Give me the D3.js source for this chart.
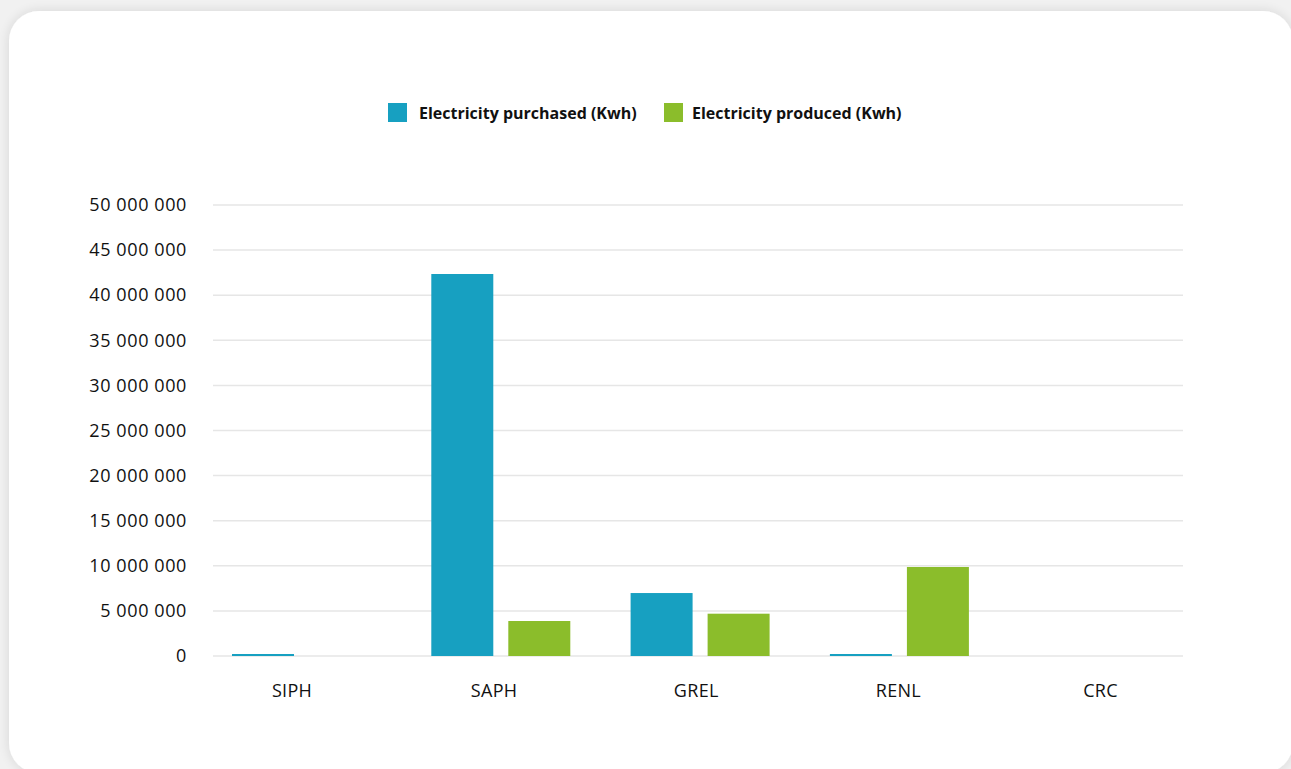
<!DOCTYPE html>
<html><head><meta charset="utf-8">
<script src="https://cdn.jsdelivr.net/npm/d3@7"></script>
<style>
html,body{margin:0;padding:0;background:#f1f1f1;overflow:hidden}
svg{display:block}
</style></head>
<body>
<svg id="chart" width="1291" height="769"></svg>
<script>
const categories = ["SIPH", "SAPH", "GREL", "RENL", "CRC"];
const seriesNames = ["Electricity purchased (Kwh)", "Electricity produced (Kwh)"];
const purchased = [150000, 42350000, 6980000, 150000, 0];
const produced = [0, 3880000, 4690000, 9870000, 0];
const yTicks = [0, 5000000, 10000000, 15000000, 20000000, 25000000, 30000000, 35000000, 40000000, 45000000, 50000000];
const colors = ["#17a0c1", "#8bbd2b"];

const svg = d3.select("#chart");
const defs = svg.append("defs");
const f = defs.append("filter").attr("id","sh").attr("x","-5%").attr("y","-5%").attr("width","110%").attr("height","110%");
f.append("feGaussianBlur").attr("in","SourceAlpha").attr("stdDeviation",6);
f.append("feOffset").attr("dx",0).attr("dy",0).attr("result","b");
f.append("feComponentTransfer").append("feFuncA").attr("type","linear").attr("slope",0.12);
const m = f.append("feMerge"); m.append("feMergeNode"); m.append("feMergeNode").attr("in","SourceGraphic");

svg.append("rect").attr("x",9).attr("y",11).attr("width",1284).attr("height",762)
  .attr("rx",30).attr("fill","#fff").attr("filter","url(#sh)");

const font = "'Open Sans', sans-serif";
const y = d3.scaleLinear().domain([0, 50000000]).range([656, 205]);
const x0 = d3.scaleBand().domain(categories).range([202.5, 202.5 + 5*199.3]);
const x1 = d3.scaleBand().domain([0,1]).range([29.5, 168.5]).paddingInner(0.195);
const xl = d3.scalePoint().domain(categories).range([291.5, 1100]);

const fmt = v => d3.format(",")(v).replace(/,/g, " ");
const yAxis = d3.axisLeft(y).tickValues(yTicks).tickFormat(fmt).tickSize(0).tickPadding(0);
const gy = svg.append("g").attr("transform","translate(187,0)").call(yAxis);
gy.select(".domain").remove();
gy.selectAll("text").attr("font-family",font).attr("font-size",18).attr("font-weight",500)
  .attr("letter-spacing","0.6px").attr("fill","#111").attr("dy","0.32em");

svg.append("g").selectAll("line").data(yTicks).join("line")
  .attr("x1",213).attr("x2",1183).attr("y1",d=>y(d)).attr("y2",d=>y(d))
  .attr("stroke","#e6e6e6").attr("stroke-width",1.5);

const series = [purchased, produced];
const g = svg.append("g");
categories.forEach((c,i)=>{
  series.forEach((s,j)=>{
    if (s[i] <= 0) return;
    const top = y(s[i]);
    g.append("rect").attr("x", x0(c)+x1(j)).attr("width", x1.bandwidth())
      .attr("y", Math.min(top, y(0)-2)).attr("height", Math.max(y(0)-top, 2))
      .attr("fill", colors[j]);
  });
});

const xAxis = d3.axisBottom(xl).tickSize(0).tickPadding(0);
const gx = svg.append("g").attr("transform","translate(0,691)").call(xAxis);
gx.select(".domain").remove();
gx.selectAll("text").attr("font-family",font).attr("font-size",18).attr("font-weight",500)
  .attr("letter-spacing","0.3px").attr("fill","#111").attr("dy","0.32em");

const legendX = [388, 664];
const lg = svg.append("g");
seriesNames.forEach((n,j)=>{
  lg.append("rect").attr("x",legendX[j]).attr("y",103).attr("width",19).attr("height",19).attr("fill",colors[j]);
  lg.append("text").attr("x",legendX[j]+(j===0?31:28)).attr("y",113).attr("dy","0.35em")
    .attr("font-family",font).attr("font-weight","bold").attr("font-size",16).attr("fill","#111").text(n);
});
</script>
</body></html>
